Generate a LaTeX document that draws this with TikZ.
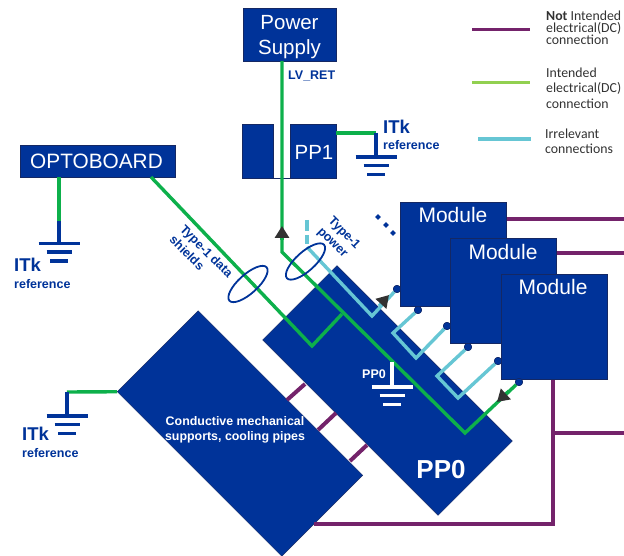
\documentclass[tikz,border=0pt]{standalone}
\usepackage{fontspec}
\setmainfont{Liberation Sans}
\newfontfamily\legendfont{Carlito}
\usetikzlibrary{arrows.meta, positioning, shapes.geometric}
\definecolor{itkblue}{RGB}{0, 51, 153}
\definecolor{itknavy}{RGB}{20, 40, 100}
\definecolor{itkgreen}{RGB}{13, 176, 75}
\definecolor{itklime}{RGB}{146, 208, 80}
\definecolor{itkpurple}{RGB}{116, 35, 107}
\definecolor{itkcyan}{RGB}{102, 198, 212}
\definecolor{itkdark}{RGB}{50, 50, 50}
\tikzset{
  box/.style={draw=itknavy, fill=itkblue, inner sep=0pt},
  boxlab/.style={text=white, inner sep=0pt, align=center, font=\fontsize{#1}{25}\selectfont},
  boxlab/.default=21,
  plate/.style={fill=itkblue, draw=itknavy, inner sep=0pt, rotate=-45},
  greenw/.style={draw=itkgreen, line width=3.4pt},
  purplew/.style={draw=itkpurple, line width=4pt},
  cyanw/.style={draw=itkcyan, line width=3.4pt},
  bluew/.style={draw=itkblue, line width=3.2pt},
  arr/.style={-{Triangle[length=12pt, width=14pt, color=itkdark]}},
  pin/.style={circle, fill=itkblue, draw=itknavy, inner sep=0pt, minimum size=7.5pt},
  dotmark/.style={diamond, fill=itkblue, inner sep=0pt, minimum size=6pt},
  bundle/.style={ellipse, draw=itkblue, line width=1.8pt, inner sep=0pt, minimum width=50pt, minimum height=19pt, rotate=42},
  lab/.style={text=itkblue, font=\bfseries\fontsize{12.5}{15}\selectfont, inner sep=0pt, align=left},
  itk/.style={text=itkblue, font=\bfseries\fontsize{18.5}{20}\selectfont, inner sep=0pt},
  legtext/.style={text=itkdark, font=\legendfont\fontsize{13.8}{#1}\selectfont, inner sep=0pt, align=left, anchor=west},
  legtext/.default=12,
  pics/gnd/.style={code={
    \draw[line width=3.2pt, pic actions] (-20.5,0) -- (20.5,0);
    \draw[line width=3.2pt, pic actions] (-12.5,8.5) -- (12.5,8.5);
    \draw[line width=3.2pt, pic actions] (-9,17.5) -- (9,17.5);
  }}
}
\begin{document}
\begin{tikzpicture}[x=1pt, y=-1pt]
  \useasboundingbox (0,0) rectangle (624,556);
  % rotated plates
  \node[plate, minimum width=232.6pt, minimum height=114.5pt] (mech) at (240,433.5) {};
  \node[text=white, font=\bfseries\fontsize{12.4}{15}\selectfont, align=center, inner sep=0pt] (mechlab) at (235,430) {Conductive mechanical\\supports, cooling pipes};
  \node[plate, minimum width=248pt, minimum height=105pt] (pp0) at (387.5,390.5) {};
  \node[text=white, font=\bfseries\fontsize{26}{28}\selectfont, inner sep=0pt] (pp0lab) at (441,470) {PP0};
  % top boxes
  \node[box, minimum width=93pt, minimum height=53pt] (psu) at (289.5,34.5) {};
  \node[boxlab=20.5] (psulab) at (289.5,37.5) {Power\\Supply};
  \node[box, minimum width=46pt, minimum height=54pt] (pp1) at (313,151) {};
  \node[boxlab=20.5] (pp1lab) at (314,152) {PP1};
  \node[box, minimum width=31pt, minimum height=54pt, left=16pt of pp1] (pp1b) {};
  \draw[itknavy, line width=0.8pt] (pp1b.south east) -- (pp1.south west);
  \node[box, minimum width=155pt, minimum height=32pt] (opto) at (97.5,161) {};
  \node[boxlab=20.8] (optolab) at (96.5,161) {OPTOBOARD};
  \node[lab, anchor=west] (lvret) at (288,76) {LV\_RET};
  % purple links between the plates
  \coordinate (s1a) at (287,400); \coordinate (s1b) at (305,384);
  \coordinate (s2a) at (318,430); \coordinate (s2b) at (336,413);
  \coordinate (s3a) at (350,461); \coordinate (s3b) at (367,445);
  \draw[purplew] (s1a) -- (s1b);
  \draw[purplew] (s2a) -- (s2b);
  \draw[purplew] (s3a) -- (s3b);
  % purple rails
  \coordinate (r1) at (624,219);
  \coordinate (r2) at (624,253);
  \coordinate (r3) at (624,433);
  \coordinate (rj) at (553,433);
  \coordinate (rb) at (553,523.5);
  \coordinate (rp) at (314,523.5);
  \draw[purplew] (506,219) -- (r1);
  \draw[purplew] (556,253) -- (r2);
  \draw[purplew] (553,379) -- (rj) -- (rb) -- (rp);
  \draw[purplew] (rj) -- (r3);
  % modules
  \node[box, minimum width=106pt, minimum height=104pt, anchor=north west] (m1) at (400,202) {};
  \node[box, minimum width=106pt, minimum height=105pt, anchor=north west] (m2) at (450,238) {};
  \node[box, minimum width=106pt, minimum height=105pt, anchor=north west] (m3) at (501,274) {};
  \node[boxlab] (m1lab) at (453,215) {Module};
  \node[boxlab] (m2lab) at (503,252) {Module};
  \node[boxlab] (m3lab) at (553,287) {Module};
  % pins
  \node[pin] (p1) at (397,289) {};
  \node[pin] (p2) at (418,310) {};
  \node[pin] (p3) at (447,326) {};
  \node[pin] (p4) at (468,347) {};
  \node[pin] (p5) at (498,361) {};
  \node[pin] (p6) at (519,382) {};
  % cyan wires
  \coordinate (c0) at (307,220);
  \coordinate (c1) at (307,247);
  \coordinate (c2) at (372,316);
  \coordinate (c3) at (393,333);
  \coordinate (c4) at (416,358);
  \coordinate (c5) at (437,376);
  \coordinate (c6) at (458,398);
  \draw[cyanw, dash pattern=on 11pt off 4pt on 9pt off 3pt] (c0) -- (c1);
  \draw[cyanw] (c1) -- (c2) -- (p1);
  \draw[cyanw] (p2) -- (c3) -- (c4) -- (p3);
  \draw[cyanw] (p4) -- (c5) -- (c6) -- (p5);
  \node[pin] at (p1) {};
  \node[pin] at (p2) {};
  \node[pin] at (p3) {};
  \node[pin] at (p4) {};
  \node[pin] at (p5) {};
  % green wires
  \coordinate (g0) at (282,61);
  \coordinate (g1) at (282,252);
  \coordinate (g2) at (465,433);
  \coordinate (ga1) at (282,226);
  \coordinate (ga2) at (389,295);
  \coordinate (ga3) at (497,402);
  \coordinate (o0) at (151,177);
  \coordinate (o1) at (312,346);
  \coordinate (o2) at (342,314);
  \draw[greenw] (g0) -- (g1) -- (g2) -- (p6);
  \draw[greenw] (o0) -- (o1) -- (o2);
  \node[pin] at (p6) {};
  % arrowheads
  \draw[greenw, arr] (282,240) -- (ga1);
  \draw[cyanw, arr] (379,306) -- (ga2);
  \draw[greenw, arr] (509,391) -- (ga3);
  % cable bundles
  \node[bundle] (shields) at (248,284) {};
  \node[bundle] (power) at (305.5,261.5) {};
  \node[lab, rotate=-45] (shieldlab) at (201.5,256.5) {Type-1 data\\shields};
  \node[lab, rotate=-45] (powerlab) at (338.5,238.5) {Type-1\\power};
  \foreach \i/\px/\py in {1/378/217, 2/386/225, 3/393/233}
    \node[dotmark] (more\i) at (\px,\py) {};
  % grounds
  \coordinate (gp1) at (376,133);
  \coordinate (gp2) at (376,157);
  \draw[greenw] ([yshift=18pt]pp1.east) -- (gp1);
  \draw[bluew] (gp1) -- (gp2);
  \pic[itkblue] at (gp2) {gnd};
  \node[itk, anchor=west] (itk1) at (383,127) {ITk};
  \node[lab, anchor=west] (ref1) at (383,145) {reference};

  \coordinate (go1) at (59,221);
  \coordinate (go2) at (59,243.5);
  \draw[greenw] (opto.south -| go1) -- (go1);
  \draw[bluew] (go1) -- (go2);
  \pic[itkblue] at (go2) {gnd};
  \node[itk, anchor=west] (itk2) at (14,265) {ITk};
  \node[lab, anchor=west] (ref2) at (14,284) {reference};

  \coordinate (gm1) at (67,392);
  \coordinate (gm2) at (67,416);
  \draw[greenw] (mech.south west) -- (gm1);
  \draw[bluew] (gm1) -- (gm2);
  \pic[itkblue] at (gm2) {gnd};
  \node[itk, anchor=west] (itk3) at (22,434) {ITk};
  \node[lab, anchor=west] (ref3) at (22,453) {reference};

  \coordinate (gq1) at (392,362);
  \coordinate (gq2) at (392,387);
  \draw[white, line width=3.2pt] (gq1) -- (gq2);
  \pic[white] at (gq2) {gnd};
  \node[lab, text=white, anchor=west] (pp0small) at (362,374) {PP0};
  % legend
  \coordinate (l1a) at (472,30); \coordinate (l1b) at (530,30);
  \coordinate (l2a) at (472,83); \coordinate (l2b) at (530,83);
  \coordinate (l3a) at (478,139); \coordinate (l3b) at (531,139);
  \draw[draw=itkpurple, line width=3pt] (l1a) -- (l1b);
  \draw[draw=itklime, line width=3pt] (l2a) -- (l2b);
  \draw[cyanw, line width=3.6pt] (l3a) -- (l3b);
  \node[legtext] (leg1) at (546,28) {\textbf{Not} Intended\\electrical(DC)\\connection};
  \node[legtext=15.5] (leg2) at (546,88) {Intended\\electrical(DC)\\connection};
  \node[legtext=15] (leg3) at (545,141) {Irrelevant\\connections};
\end{tikzpicture}
\end{document}
